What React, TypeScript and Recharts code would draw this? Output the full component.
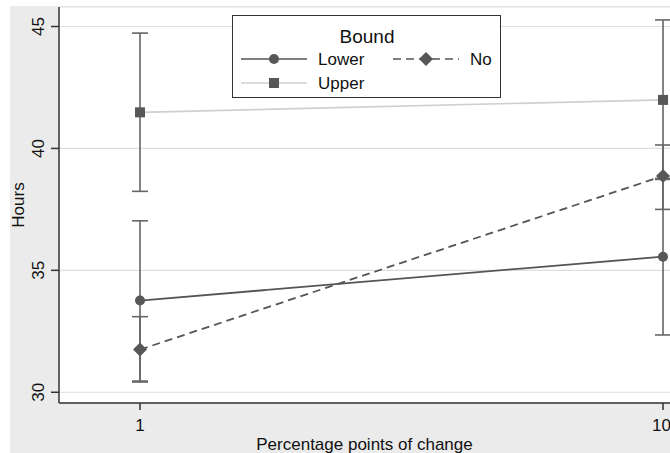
import React from 'react';
import { LineChart, Line, XAxis, YAxis, CartesianGrid, ErrorBar } from 'recharts';

const categories = [1, 10];
const lowerMean = [33.76, 35.56];
const lowerCI = [[30.46, 37.03], [32.35, 38.77]];
const noMean = [31.75, 38.87];
const noCI = [[30.42, 33.1], [37.5, 40.14]];
const upperMean = [41.48, 41.99];
const upperCI = [[38.24, 44.73], [38.73, 45.27]];
const yTicks = [30, 35, 40, 45];
const xTicks = [1, 10];

const data = categories.map((x, i) => ({
  x,
  lower: lowerMean[i],
  lowerErr: [lowerMean[i] - lowerCI[i][0], lowerCI[i][1] - lowerMean[i]],
  no: noMean[i],
  noErr: [noMean[i] - noCI[i][0], noCI[i][1] - noMean[i]],
  upper: upperMean[i],
  upperErr: [upperMean[i] - upperCI[i][0], upperCI[i][1] - upperMean[i]],
}));

const MARK = '#575757';
const ERR = '#666666';
const TXT = '#111111';
const FONT = "'Liberation Sans', Arial, sans-serif";

type Shape = 'circle' | 'diamond' | 'square';

const drawMarker = (shape: Shape, cx: number, cy: number, key?: any) => {
  if (shape === 'circle') return <circle key={key} cx={cx} cy={cy} r={5} fill={MARK} />;
  if (shape === 'square') return <rect key={key} x={cx - 5} y={cy - 5} width={10} height={10} fill={MARK} />;
  const r = 7;
  return <polygon key={key} points={`${cx},${cy - r} ${cx + r},${cy} ${cx},${cy + r} ${cx - r},${cy}`} fill={MARK} />;
};

const series = [
  { key: 'upper', err: 'upperErr', name: 'Upper', shape: 'square' as Shape, stroke: '#cfcfcf', dash: undefined as string | undefined, col: 0, row: 1 },
  { key: 'lower', err: 'lowerErr', name: 'Lower', shape: 'circle' as Shape, stroke: '#555555', dash: undefined as string | undefined, col: 0, row: 0 },
  { key: 'no', err: 'noErr', name: 'No', shape: 'diamond' as Shape, stroke: '#555555', dash: '8 5', col: 1, row: 0 },
];

const YTick = (props: any) => {
  const { x, y, payload } = props;
  const cx = x - 10;
  return (
    <text x={cx} y={y} transform={`rotate(-90, ${cx}, ${y})`} textAnchor="middle" dominantBaseline="central" fontSize={17} fill={TXT} fontFamily={FONT}>
      {payload.value}
    </text>
  );
};

const YLabel = (props: any) => {
  const vb = props.viewBox || {};
  const cx = (vb.x || 0) + 8.5;
  const cy = (vb.y || 0) + (vb.height || 0) / 2;
  return (
    <text x={cx} y={cy} transform={`rotate(-90, ${cx}, ${cy})`} textAnchor="middle" dominantBaseline="central" fontSize={17} fill={TXT} fontFamily={FONT}>
      Hours
    </text>
  );
};

const LegendBox = () => {
  const colX = [8, 160];
  const rowY = [43, 67];
  return (
    <div style={{ position: 'absolute', left: 222, top: 9, width: 269, height: 83, boxSizing: 'border-box', border: '1.5px solid #333', background: '#fff' }}>
      <svg width={266} height={80} style={{ display: 'block' }}>
        <text x={134} y={27} textAnchor="middle" fontSize={19} fill={TXT} fontFamily={FONT}>Bound</text>
        {series.map((s) => {
          const x0 = colX[s.col];
          const y = rowY[s.row];
          return (
            <g key={s.key}>
              <line x1={x0} x2={x0 + 66} y1={y} y2={y} stroke={s.stroke} strokeWidth={1.6} strokeDasharray={s.dash} />
              {drawMarker(s.shape, x0 + 33, y)}
              <text x={x0 + 77} y={y + 6} fontSize={17} fill={TXT} fontFamily={FONT}>{s.name}</text>
            </g>
          );
        })}
      </svg>
    </div>
  );
};

export default function App() {
  return (
    <div style={{ position: 'fixed', left: 10, top: 6, width: 660, height: 447, background: '#ebebeb', fontFamily: FONT }}>
      <LineChart width={660} height={447} data={data} margin={{ top: 1, right: 0, bottom: 0, left: 0 }}>
        <CartesianGrid vertical={false} stroke="#dedede" strokeWidth={1.2} fill="#ffffff" />
        <XAxis
          dataKey="x"
          type="number"
          domain={[-0.394, 10.12]}
          ticks={xTicks}
          allowDataOverflow
          height={50}
          tickSize={7}
          tickMargin={9}
          stroke="#333"
          strokeWidth={1.5}
          tick={{ fontSize: 17, fill: TXT, fontFamily: FONT }}
          label={{ value: 'Percentage points of change', position: 'insideBottom', offset: 3, fontSize: 17, fill: TXT, fontFamily: FONT }}
        />
        <YAxis
          type="number"
          domain={[29.56, 45.8]}
          ticks={yTicks}
          allowDataOverflow
          width={49}
          tickSize={8}
          tickMargin={2}
          stroke="#333"
          strokeWidth={1.5}
          tick={<YTick />}
          label={<YLabel />}
        />
        {series.map((s) => (
          <Line
            key={s.key}
            dataKey={s.key}
            type="linear"
            stroke={s.stroke}
            strokeWidth={s.key === 'upper' ? 1.6 : 1.8}
            strokeDasharray={s.dash}
            isAnimationActive={false}
            dot={(p: any) => drawMarker(s.shape, p.cx, p.cy, `${s.key}-${p.index}`)}
            activeDot={false}
          >
            <ErrorBar dataKey={s.err} width={8} stroke={ERR} strokeWidth={1.6} direction="y" />
          </Line>
        ))}
      </LineChart>
      <LegendBox />
    </div>
  );
}
